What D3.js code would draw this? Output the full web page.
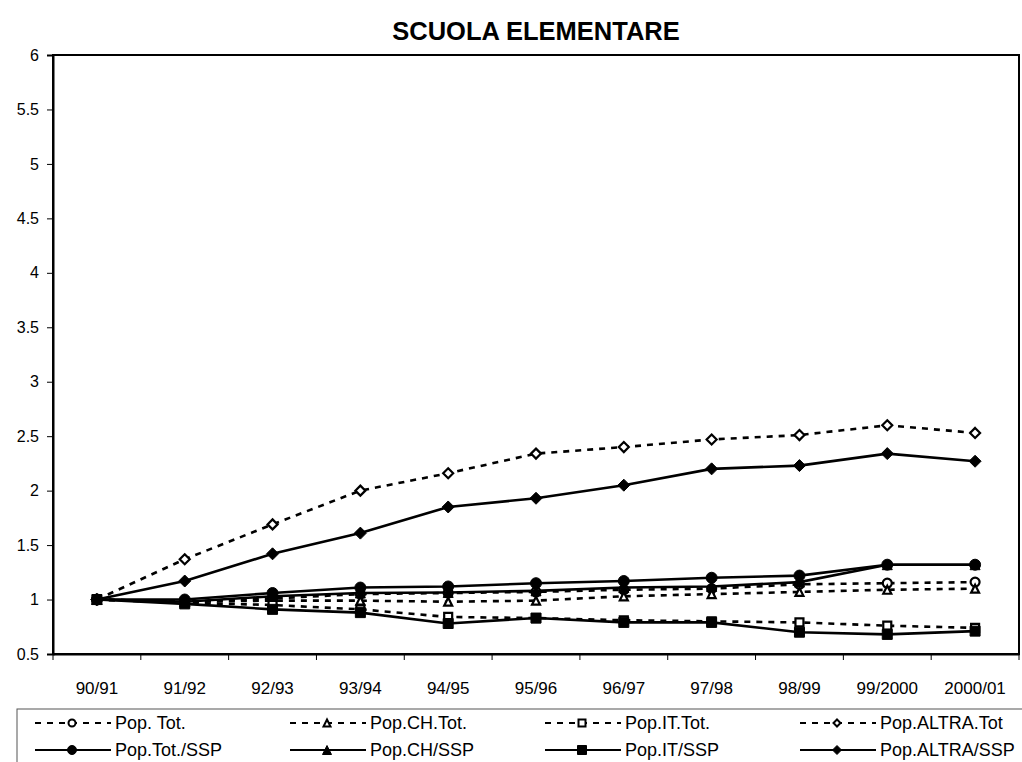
<!DOCTYPE html>
<html><head><meta charset="utf-8">
<script src="https://cdn.jsdelivr.net/npm/d3@7"></script>
<style>body{margin:0;background:#fff;} svg{display:block;font-family:Arial,"Liberation Sans",sans-serif;}</style>
</head><body>
<script>
const categories = ["90/91","91/92","92/93","93/94","94/95","95/96","96/97","97/98","98/99","99/2000","2000/01"];
const popTot      = [1, 0.98, 1.01, 1.05, 1.06, 1.07, 1.09, 1.10, 1.14, 1.15, 1.16];
const popCHTot    = [1, 0.98, 0.99, 0.99, 0.98, 0.99, 1.03, 1.05, 1.07, 1.09, 1.10];
const popITTot    = [1, 0.97, 0.95, 0.91, 0.84, 0.83, 0.81, 0.80, 0.79, 0.76, 0.74];
const popALTRATot = [1, 1.37, 1.69, 2.00, 2.16, 2.34, 2.40, 2.47, 2.51, 2.60, 2.53];
const popTotSSP   = [1, 1.00, 1.06, 1.11, 1.12, 1.15, 1.17, 1.20, 1.22, 1.32, 1.32];
const popCHSSP    = [1, 0.98, 1.03, 1.06, 1.065, 1.08, 1.11, 1.12, 1.16, 1.32, 1.32];
const popITSSP    = [1, 0.96, 0.91, 0.88, 0.78, 0.83, 0.79, 0.79, 0.70, 0.68, 0.71];
const popALTRASSP = [1, 1.17, 1.42, 1.61, 1.85, 1.93, 2.05, 2.20, 2.23, 2.34, 2.27];
const yTicks = [0.5,1,1.5,2,2.5,3,3.5,4,4.5,5,5.5,6];

const series = [
  {name:"Pop. Tot.",      values:popTot,      dashed:true,  shape:"circle",   filled:false},
  {name:"Pop.CH.Tot.",    values:popCHTot,    dashed:true,  shape:"triangle", filled:false},
  {name:"Pop.IT.Tot.",    values:popITTot,    dashed:true,  shape:"square",   filled:false},
  {name:"Pop.ALTRA.Tot",  values:popALTRATot, dashed:true,  shape:"diamond",  filled:false},
  {name:"Pop.Tot./SSP",   values:popTotSSP,   dashed:false, shape:"circle",   filled:true},
  {name:"Pop.CH/SSP",     values:popCHSSP,    dashed:false, shape:"triangle", filled:true},
  {name:"Pop.IT/SSP",     values:popITSSP,    dashed:false, shape:"square",   filled:true},
  {name:"Pop.ALTRA/SSP",  values:popALTRASSP, dashed:false, shape:"diamond",  filled:true}
];

const W = 1022, H = 762;
const L = 53, R = 1019, T = 55, B = 654;
const FONT = "Arial, 'Liberation Sans', sans-serif";

const svg = d3.select("body").append("svg").attr("width", W).attr("height", H);

const x = d3.scaleBand().domain(categories).range([L, R]);
const y = d3.scaleLinear().domain([0.5, 6]).range([B, T]);

function markerPath(shape, s) {
  const h = s / 2;
  if (shape === "circle") {
    return `M${-h},0A${h},${h} 0 1,0 ${h},0A${h},${h} 0 1,0 ${-h},0Z`;
  } else if (shape === "square") {
    return `M${-h},${-h}H${h}V${h}H${-h}Z`;
  } else if (shape === "triangle") {
    return `M0,${-h}L${h},${h}H${-h}Z`;
  } else {
    return `M0,${-h}L${h},0L0,${h}L${-h},0Z`;
  }
}

// title
svg.append("text").attr("x", (L + R) / 2).attr("y", 40).attr("text-anchor", "middle")
  .attr("font-weight", "bold").attr("font-size", 25.5).text("SCUOLA ELEMENTARE");

// plot frame
svg.append("rect").attr("x", L).attr("y", T).attr("width", R - L).attr("height", B - T)
  .attr("fill", "none").attr("stroke", "#000").attr("stroke-width", 2);

// y axis
const yAxis = d3.axisLeft(y).tickValues(yTicks).tickSize(6).tickPadding(8).tickFormat(d3.format("~g"));
const gy = svg.append("g").attr("transform", `translate(${L},0)`).call(yAxis);
gy.select(".domain").attr("stroke-width", 2);
gy.selectAll("text").attr("font-size", 16).attr("fill", "#000").attr("font-family", FONT);

// x axis
const xAxis = d3.axisBottom(x).tickSize(0).tickPadding(28);
const gx = svg.append("g").attr("transform", `translate(0,${B})`).call(xAxis);
gx.select(".domain").attr("stroke-width", 2);
gx.selectAll("text").attr("font-size", 17).attr("fill", "#000").attr("font-family", FONT);
// category boundary ticks
const bounds = categories.map(c => x(c)).concat([x(categories[categories.length - 1]) + x.bandwidth()]);
svg.append("g").selectAll("line").data(bounds).join("line")
  .attr("x1", d => d).attr("x2", d => d).attr("y1", B).attr("y2", B + 6)
  .attr("stroke", "#000").attr("stroke-width", 1);

const cx = c => x(c) + x.bandwidth() / 2;
const line = d3.line().x((d, i) => cx(categories[i])).y(d => y(d));

series.forEach(s => {
  const g = svg.append("g");
  g.append("path").datum(s.values).attr("d", line).attr("fill", "none")
    .attr("stroke", "#000").attr("stroke-width", 2.6)
    .attr("stroke-dasharray", s.dashed ? "6,6" : null);
  const sz = s.shape === "circle" ? 11 : (s.shape === "triangle" ? 10 : (s.shape === "square" ? 10 : 12));
  g.selectAll("path.m").data(s.values).join("path").attr("class", "m")
    .attr("transform", (d, i) => `translate(${cx(categories[i])},${y(d)})`)
    .attr("d", markerPath(s.shape, s.filled ? sz : sz - 2))
    .attr("fill", s.filled ? "#000" : "#fff")
    .attr("stroke", "#000").attr("stroke-width", s.filled ? 1 : 2.2);
});

// legend
const lg = svg.append("g");
lg.append("rect").attr("x", 17).attr("y", 709).attr("width", 1020).attr("height", 70)
  .attr("fill", "#fff").attr("stroke", "#555").attr("stroke-width", 1);
series.forEach((s, i) => {
  const col = i % 4, row = Math.floor(i / 4);
  const x0 = 35 + col * 255, yy = 723 + row * 27;
  const g = lg.append("g");
  g.append("line").attr("x1", x0).attr("x2", x0 + 76).attr("y1", yy).attr("y2", yy)
    .attr("stroke", "#000").attr("stroke-width", 2.2)
    .attr("stroke-dasharray", s.dashed ? "6,6" : null);
  g.append("path").attr("transform", `translate(${x0 + 37},${yy})`)
    .attr("d", markerPath(s.shape, s.filled ? 9 : 7))
    .attr("fill", s.filled ? "#000" : "#fff").attr("stroke", "#000").attr("stroke-width", s.filled ? 1 : 2);
  g.append("text").attr("x", x0 + 80).attr("y", yy + 6).attr("font-size", 18).attr("font-family", FONT).text(s.name);
});
</script>
</body></html>
